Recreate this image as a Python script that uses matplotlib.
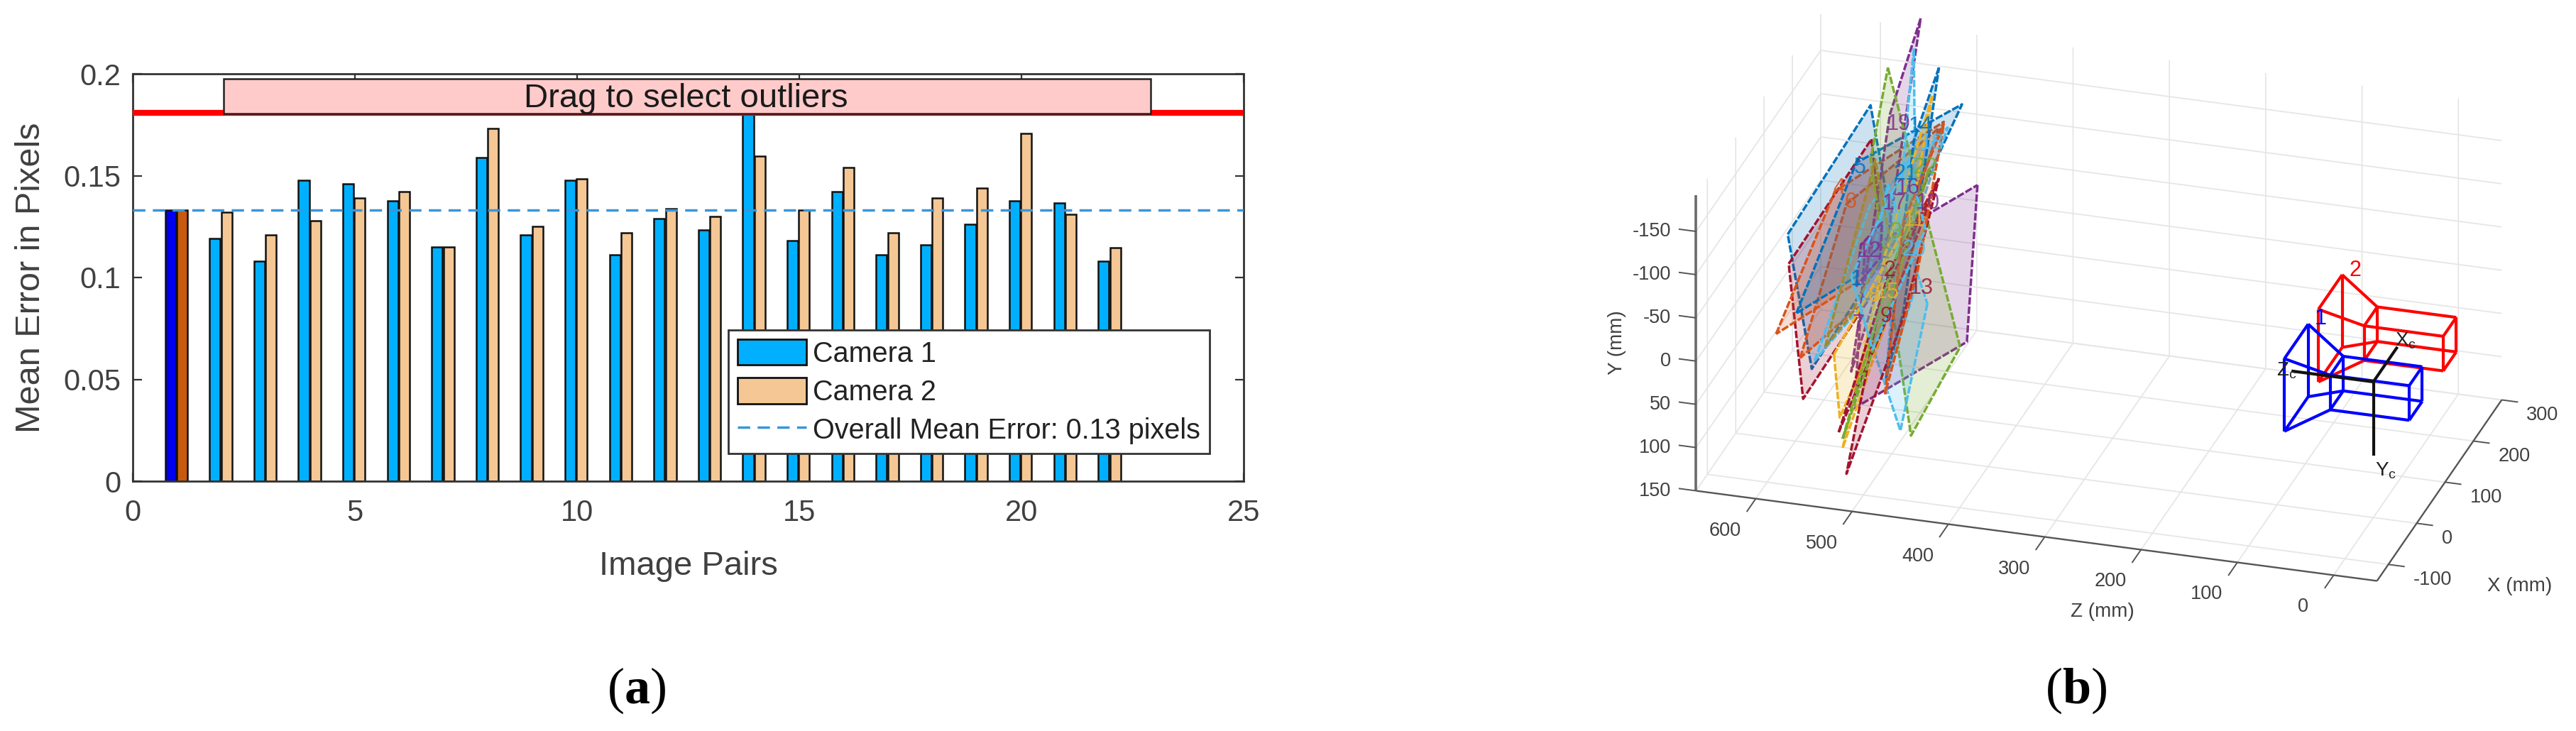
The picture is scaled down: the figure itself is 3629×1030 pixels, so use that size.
import matplotlib
matplotlib.use("Agg")
import matplotlib.pyplot as plt
import numpy as np
from mpl_toolkits.mplot3d.art3d import Poly3DCollection
from mpl_toolkits.mplot3d import proj3d
from matplotlib.patches import Rectangle, Patch
from matplotlib.lines import Line2D

plt.rcParams['font.family'] = ['Liberation Sans', 'DejaVu Sans']
plt.rcParams['mathtext.fontset'] = 'custom'
plt.rcParams['mathtext.bf'] = 'Liberation Serif:bold'
plt.rcParams['mathtext.rm'] = 'Liberation Serif'
plt.rcParams['mathtext.default'] = 'regular'
plt.rcParams['axes.unicode_minus'] = False

# ---------- panel (a) data ----------
image_pairs = list(range(1, 23))
camera1 = [.133, .119, .108, .1476, .146, .1375, .115, .159, .121, .1476, .111,
           .129, .1235, .181, .118, .142, .111, .116, .126, .1375, .1365, .108]
camera2 = [.133, .132, .121, .128, .139, .142, .115, .173, .125, .1485, .122,
           .1337, .130, .1595, .133, .154, .122, .139, .144, .1706, .131, .1145]
overall_mean = 0.133
outlier_threshold = 0.181
legend_labels = ['Camera 1', 'Camera 2', 'Overall Mean Error: 0.13 pixels']

# ---------- panel (b) data: board corners, (Z, Y) in mm ----------
board_z = [
    [608, 522, 497, 583], [607, 521, 506, 592], [620, 559, 446, 507], [595, 547, 451, 502],
    [599, 537, 427, 500], [580, 522, 442, 488], [470, 502, 542, 510], [411, 422, 539, 528],
    [504, 429, 480, 522], [463, 491, 532, 504], [477, 483, 506, 475], [451, 477, 506, 488],
    [458, 507, 551, 493], [560, 554, 461, 483], [451, 512, 547, 488], [555, 502, 453, 505],
    [551, 502, 461, 497], [507, 488, 446, 473], [569, 517, 502, 544], [537, 532, 510, 512],
    [542, 520, 465, 483]]
board_y = [
    [-88, -250, -97, 64], [-54, -211, -58, 100], [29, -145, -242, -68], [53, -132, -234, -51],
    [2, -181, -265, -80], [54, -136, -236, -79], [-358, -242, 61, -55], [-174, 9, 103, -80],
    [-296, 16, 126, -187], [-29, 122, -10, -161], [-322, -255, 64, -47], [-304, -216, 64, -16],
    [-270, -79, 151, -45], [44, 116, -130, -120], [-176, -24, 180, -9], [133, -62, -172, -6],
    [140, -58, -185, -44], [82, -119, -239, -66], [36, -188, -99, -1], [-38, -87, -116, -75],
    [-49, 32, -115, -193]]
board_colors = ['#0072BD', '#A2142F', '#D95319', '#D95319', '#0072BD', '#4DBEEE', '#7E2F8E',
                '#7E2F8E', '#77AC30', '#4DBEEE', '#4DBEEE', '#0072BD', '#EDB120', '#EDB120',
                '#A2142F', '#A2142F', '#77AC30', '#D95319', '#A08A30', '#7E2F8E', '#4DBEEE']
label_text = ['1', '2', '3', '4', '5', '6', '7', '8', '9', '10', '11', '12', '13', '14',
              '15', '16', '17', '18', '19', '20', '21', '22']
label_z = [537, 502, 495, 555, 533, 543, 535, 518, 506, 463, 477, 523, 469, 470, 505, 483,
           497, 458, 493, 477, 486, 465]
label_y = [-46, -62, -107, -149, -176, -135, 5, -30, -8, -146, -124, -81, -46, -233, -36,
           -160, -140, -215, -232, -89, -176, -186]
label_colors = ['#0072BD', '#A2142F', '#77AC30', '#D95319', '#0072BD', '#D95319', '#7E2F8E',
                '#EDB120', '#A2142F', '#7E2F8E', '#EDB120', '#7E2F8E', '#A2142F', '#0072BD',
                '#EDB120', '#7E2F8E', '#7E2F8E', '#4DBEEE', '#7E2F8E', '#4DBEEE', '#0072BD',
                '#77AC30']

# camera wireframe (mm)
box_x = [-23, 23]
box_y = [-20, 20]
box_z = [-44, 38]
lens_half = 42
lens_z = 80
camera_offsets = [0, 120]
camera_colors = ['#0000FF', '#FF0000']
axis_origin_y = -7
axis_len = 85

x_ticks = [-100, 0, 100, 200, 300]
y_ticks = [-150, -100, -50, 0, 50, 100, 150]
z_ticks = [0, 100, 200, 300, 400, 500, 600]

TXT = '#404040'
fig = plt.figure(figsize=(36.3, 10.3), dpi=100)
W, H = 3630, 1030

# ---------- panel (a) ----------
ax = fig.add_axes([187 / W, 1 - 678 / H, (1752 - 187) / W, (678 - 104) / H])
x = np.array(image_pairs, float)
bw = 0.24
c1 = ['#00B0FF'] * len(x)
c2 = ['#F4C795'] * len(x)
c1[0], c2[0] = '#0000F0', '#C85A10'
ax.bar(x - .15, camera1, bw, color=c1, edgecolor='#111111', linewidth=1.8, zorder=2)
ax.bar(x + .11, camera2, bw, color=c2, edgecolor='#111111', linewidth=1.8, zorder=2)
ax.axhline(overall_mean, color='#3A96D8', ls=(0, (5, 3)), lw=2.5, zorder=3)
ax.axhline(outlier_threshold, color='#FF0000', lw=6, zorder=4)
ax.add_patch(Rectangle((2.04, .1806), 20.86, .0169, fc='#FFCACA', ec='#222222', lw=1.8, zorder=5))
ax.text(12.45, .1878, 'Drag to select outliers', ha='center', va='center', fontsize=34, color='#1a1a1a', zorder=6)
ax.set_xlim(0, 25)
ax.set_ylim(0, 0.2)
ax.set_xticks([0, 5, 10, 15, 20, 25])
ax.set_yticks([0, .05, .1, .15, .2])
ax.set_yticklabels(['0', '0.05', '0.1', '0.15', '0.2'])
ax.tick_params(direction='in', top=True, right=True, length=9, width=1.6, color='#333333',
               labelsize=30, labelcolor=TXT, pad=12)
ax.tick_params(axis='x', pad=18)
for s in ax.spines.values():
    s.set_color('#333333')
    s.set_linewidth(2)
ax.set_xlabel('Image Pairs', fontsize=34, color=TXT, labelpad=24)
ax.set_ylabel('Mean Error in Pixels', fontsize=35, color=TXT, labelpad=17)
handles = [Patch(fc='#00B0FF', ec='#111111', lw=2), Patch(fc='#F4C795', ec='#111111', lw=2),
           Line2D([0], [0], color='#3A96D8', ls=(0, (5, 3)), lw=2.5)]
leg = ax.legend(handles, legend_labels, loc='lower left',
                bbox_to_anchor=(443 * 2.315 / 1565 - 187 / 1565, (678 - 276 * 2.315) / 574),
                fontsize=28.5, fancybox=False, framealpha=1, edgecolor='#333333', borderpad=.33,
                handlelength=2.45, handleheight=1.05, labelspacing=.36, handletextpad=.25, borderaxespad=0)
leg.get_frame().set_linewidth(2)
leg.set_zorder(7)
for t in leg.get_texts():
    t.set_color('#222222')

# ---------- panel (b) ----------
ax3 = fig.add_axes([.6, 0, 1400 / W, 1400 / H], projection='3d', proj_type='ortho')
ax3.patch.set_alpha(0)
ax3.computed_zorder = False
ax3.view_init(elev=26, azim=196.8)
XL, YL, ZL = (-140, 300), (150, -192), (-45, 662)
ax3.set_xlim(*XL, view_margin=0)
ax3.set_ylim(*ZL, view_margin=0)
ax3.set_zlim(*YL, view_margin=0)
ax3.set_box_aspect((607, 1001, 463))
ax3.set_xticks(x_ticks)
ax3.set_yticks(z_ticks)
ax3.set_zticks(y_ticks)
ax3.set_xticklabels([])
ax3.set_yticklabels([])
ax3.set_zticklabels([])
ax3.tick_params(color=(0, 0, 0, 0), width=0)
for a in (ax3.xaxis, ax3.yaxis, ax3.zaxis):
    a.set_pane_color((1, 1, 1, 0))
    a.pane.set_edgecolor((1, 1, 1, 0))
    a.line.set_visible(False)
    a._axinfo['grid'].update(color='#e6e6e6', linewidth=1.3)

def seg(p, q, col, lw, zorder=1):
    ax3.plot([p[0], q[0]], [p[2], q[2]], [p[1], q[1]], color=col, lw=lw, zorder=zorder, solid_capstyle='butt')

# axis lines and tick marks (all in data units)
seg((XL[0], YL[0], ZL[0]), (XL[0], YL[0], ZL[1]), '#555555', 1.7)
seg((XL[0], YL[0], ZL[0]), (XL[1], YL[0], ZL[0]), '#555555', 1.7)
seg((XL[0], YL[0], ZL[1]), (XL[0], YL[1], ZL[1]), '#6a6a6a', 2.6)
for t in x_ticks:
    seg((t, YL[0], ZL[0]), (t, YL[0], ZL[0] - 17), '#555555', 1.4)
for t in z_ticks:
    seg((XL[0], YL[0], t), (XL[0] - 32, YL[0], t), '#555555', 1.4)
for t in y_ticks:
    seg((XL[0], t, ZL[1]), (XL[0], t, ZL[1] + 18), '#555555', 1.4)

for zs, ys, col in zip(board_z, board_y, board_colors):
    verts = [list(zip([0] * 4, zs, ys))]
    pc = Poly3DCollection(verts, facecolor=matplotlib.colors.to_rgba(col, .2),
                          edgecolor=col, linewidth=2.5, linestyle=(0, (3, .8)), zorder=2)
    ax3.add_collection3d(pc)

# cameras
for off, col in zip(camera_offsets[::-1], camera_colors[::-1]):
    xs, ys, zs = [off + v for v in box_x], box_y, box_z
    rect = [(0, 0), (1, 0), (1, 1), (0, 1)]
    near = [(xs[i], ys[j], zs[0]) for i, j in rect]
    far = [(xs[i], ys[j], zs[1]) for i, j in rect]
    lens = [(off + (2 * i - 1) * lens_half, (2 * j - 1) * lens_half, lens_z) for i, j in rect]
    for k in range(4):
        seg(near[k], near[(k + 1) % 4], col, 3, 4)
        seg(far[k], far[(k + 1) % 4], col, 3, 4)
        seg(lens[k], lens[(k + 1) % 4], col, 3, 4)
        seg(near[k], far[k], col, 3, 4)
        seg(far[k], lens[k], col, 3, 4)
for d in [(axis_len, 0, 0), (0, axis_len, 0), (0, 0, axis_len)]:
    seg((0, axis_origin_y, 0), (d[0], axis_origin_y + d[1], d[2]), '#111111', 3, 5)

# fit the 3D box onto its place in the figure
def disp(xv, yv, zv):
    u, v, _ = proj3d.proj_transform(xv, zv, yv, ax3.get_proj())
    return np.array(ax3.transData.transform((u, v)))

A_t = np.array([3349., H - 816.])
B_t = np.array([2389., H - 694.])
size, cx, cy = 1400., 2800., 500.
for _ in range(4):
    ax3.set_position([(cx - size / 2) / W, (cy - size / 2) / H, size / W, size / H])
    ax3.apply_aspect()
    A, B = disp(XL[0], YL[0], ZL[0]), disp(XL[0], YL[0], ZL[1])
    size *= np.linalg.norm(A_t - B_t) / np.linalg.norm(A - B)
    ax3.set_position([(cx - size / 2) / W, (cy - size / 2) / H, size / W, size / H])
    ax3.apply_aspect()
    A, B = disp(XL[0], YL[0], ZL[0]), disp(XL[0], YL[0], ZL[1])
    d = ((A_t - A) + (B_t - B)) / 2
    cx += d[0]
    cy += d[1]
ax3.set_position([(cx - size / 2) / W, (cy - size / 2) / H, size / W, size / H])
ax3.apply_aspect()

# text labels placed at their projected 3D positions
def label3d(xv, yv, zv, s, dx=0, dy=0, ha='center', **kw):
    u, v, _ = proj3d.proj_transform(xv, zv, yv, ax3.get_proj())
    ax3.annotate(s, xy=(u, v), xycoords='data', xytext=(dx * .72, dy * .72), textcoords='offset points',
                 ha=ha, va='center', annotation_clip=False, **kw)

for s, z, y, c in zip(label_text, label_z, label_y, label_colors):
    label3d(0, y, z, s, color=c, fontsize=22, zorder=3, alpha=.85)
label3d(0, -72, 55, '1', color=camera_colors[0], fontsize=22, zorder=5)
label3d(120, -71, 54, '2', color=camera_colors[1], fontsize=22, zorder=5)
label3d(115, 0, 0, r'X$_{c}$', fontsize=20, color='#222222', zorder=6)
label3d(0, 94, -13, r'Y$_{c}$', fontsize=20, color='#222222', zorder=6)
label3d(0, axis_origin_y, axis_len + 5, r'Z$_{c}$', fontsize=20, color='#222222', zorder=6)

for t in x_ticks:
    label3d(t, YL[0], ZL[0], str(t), dx=35, dy=-22, ha='left', fontsize=19.5, color=TXT)
for t in z_ticks:
    label3d(XL[0], YL[0], t, str(t), dx=-43, dy=-45, fontsize=19.5, color=TXT)
for t in y_ticks:
    label3d(XL[0], t, ZL[1], str(t), dx=-35, ha='right', fontsize=19.5, color=TXT)

fig.text(2962 / W, 1 - 862 / H, 'Z (mm)', fontsize=20, color=TXT, ha='center', va='center')
fig.text(3550 / W, 1 - 826 / H, 'X (mm)', fontsize=20, color=TXT, ha='center', va='center')
fig.text(2278 / W, 1 - 483 / H, 'Y (mm)', fontsize=20, color=TXT, ha='center', va='center', rotation=90)

fig.text(897 / W, 1 - 973 / H, r'($\mathbf{a}$)', fontsize=52, family='Liberation Serif', color='black', ha='center', va='center')
fig.text(2925 / W, 1 - 973 / H, r'($\mathbf{b}$)', fontsize=52, family='Liberation Serif', color='black', ha='center', va='center')

fig.savefig('out.png', dpi=100)
